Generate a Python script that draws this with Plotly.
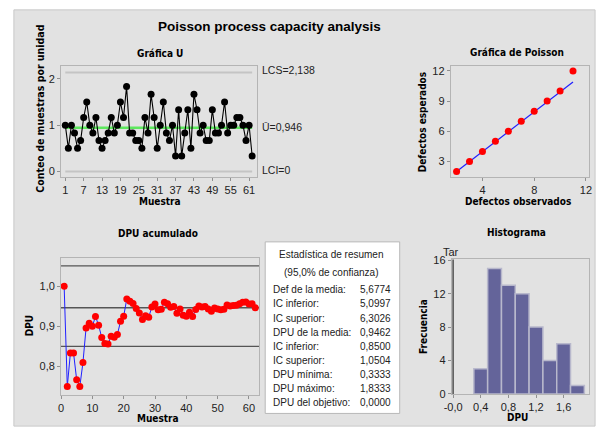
import plotly.graph_objects as go
import numpy as np

# ---------------- data ----------------
units_per_sample = 6
defects = [6, 3, 6, 5, 3, 4, 7, 9, 6, 5,
           7, 4, 3, 4, 5, 7, 5, 6, 9, 7,
           11, 5, 5, 4, 4, 3, 7, 5, 10, 7,
           3, 6, 9, 5, 4, 6, 2, 8, 2, 5,
           8, 3, 10, 8, 5, 6, 4, 4, 8, 5,
           5, 6, 9, 5, 6, 6, 7, 7, 6, 4,
           6, 2]
samples = list(range(1, len(defects) + 1))

poisson_observed = [2, 3, 4, 5, 6, 7, 8, 9, 10, 11]
poisson_expected = [2, 3, 4, 5, 6, 7, 8, 9, 10, 12]
fit_x = [2, 11]
fit_y = [2, 10.9]

hist_edges = [0.3, 0.5, 0.7, 0.9, 1.1, 1.3, 1.5, 1.7, 1.9]

summary_labels = ["Def de la media:", "IC inferior:", "IC superior:", "DPU de la media:",
                  "IC inferior:", "IC superior:", "DPU mínima:", "DPU máximo:", "DPU del objetivo:"]
summary_values = ["5,6774", "5,0997", "6,3026", "0,9462", "0,8500", "1,0504",
                  "0,3333", "1,8333", "0,0000"]
dpu_ci = [0.8500, 0.9462, 1.0504]
target_dpu = 0.0

# ---------------- derived ----------------
d = np.array(defects, dtype=float)
u = d / units_per_sample
ubar = d.sum() / (len(d) * units_per_sample)
ucl = ubar + 3 * np.sqrt(ubar / units_per_sample)
lcl = max(0.0, ubar - 3 * np.sqrt(ubar / units_per_sample))
cum_dpu = np.cumsum(d) / (units_per_sample * np.arange(1, len(d) + 1))
counts, _ = np.histogram(u, bins=np.round(hist_edges, 2))
mids = [(hist_edges[i] + hist_edges[i + 1]) / 2 for i in range(len(counts))]

W, H = 602, 436
def px(x): return x / W
def py(y): return 1 - y / H

FONT = "DejaVu Sans Condensed, DejaVu Sans, sans-serif"
TITLEFONT = "Liberation Sans, Arial, sans-serif"
TFONT = "Liberation Sans, Arial, sans-serif"
TXT = "#222222"

fig = go.Figure()

# U chart
fig.add_trace(go.Scatter(x=[1, len(d)], y=[ucl, ucl], mode="lines",
                         line=dict(color="#c4c4c4", width=2), xaxis="x", yaxis="y", hoverinfo="skip"))
fig.add_trace(go.Scatter(x=[1, len(d)], y=[lcl, lcl], mode="lines",
                         line=dict(color="#c4c4c4", width=2), xaxis="x", yaxis="y", hoverinfo="skip"))
fig.add_trace(go.Scatter(x=[1, len(d)], y=[ubar, ubar], mode="lines",
                         line=dict(color="#5ee85e", width=2.5), xaxis="x", yaxis="y"))
fig.add_trace(go.Scatter(x=samples, y=u, mode="lines+markers",
                         line=dict(color="black", width=1.1),
                         marker=dict(color="black", size=7), xaxis="x", yaxis="y"))

# Poisson plot
fig.add_trace(go.Scatter(x=fit_x, y=fit_y, mode="lines", line=dict(color="#2020ff", width=1.2),
                         xaxis="x2", yaxis="y2"))
fig.add_trace(go.Scatter(x=poisson_observed, y=poisson_expected, mode="markers",
                         marker=dict(color="#ff0000", size=7), xaxis="x2", yaxis="y2"))

# Cumulative DPU
fig.add_trace(go.Scatter(x=samples, y=cum_dpu, mode="lines+markers",
                         line=dict(color="#2020ff", width=1),
                         marker=dict(color="#ff0000", size=7), xaxis="x3", yaxis="y3"))

# Histogram
fig.add_trace(go.Bar(x=mids, y=counts, width=0.2,
                     marker=dict(color="#64649a", line=dict(color="#b8b8cc", width=1.5)),
                     xaxis="x4", yaxis="y4"))

axcommon = dict(showgrid=False, zeroline=False, showline=True, mirror=True,
                linecolor="#b4b4b4", linewidth=1, ticks="outside", ticklen=3,
                tickcolor="#909090", tickfont=dict(family=TFONT, size=11, color=TXT))

fig.update_layout(
    width=W, height=H, margin=dict(l=0, r=0, t=0, b=0),
    paper_bgcolor="white", plot_bgcolor="white", showlegend=False,
    xaxis=dict(domain=[px(54), px(254)], anchor="y", range=[-0.4, 63.7],
               tickvals=list(range(1, 62, 6)), **axcommon),
    yaxis=dict(domain=[py(176), py(63)], anchor="x", range=[-0.11, 2.27],
               tickvals=[0, 1, 2], **axcommon),
    xaxis2=dict(domain=[px(451), px(592)], anchor="y2", range=[1.55, 12.25],
                tickvals=[4, 8, 12], **axcommon),
    yaxis2=dict(domain=[py(176), py(63)], anchor="x2", range=[1.5, 12.45],
                tickvals=[3, 6, 9, 12], **axcommon),
    xaxis3=dict(domain=[px(54), px(256)], anchor="y3", range=[0, 63.3],
                tickvals=[0, 10, 20, 30, 40, 50, 60], **axcommon),
    yaxis3=dict(domain=[py(400), py(260)], anchor="x3", range=[0.729, 1.069],
                tickvals=[0.8, 0.9, 1.0], ticktext=["0,8", "0,9", "1,0"], **axcommon),
    xaxis4=dict(domain=[px(452), px(592)], anchor="y4", range=[-0.02, 1.97],
                tickvals=[0, 0.4, 0.8, 1.2, 1.6], ticktext=["-0,0", "0,4", "0,8", "1,2", "1,6"],
                **axcommon),
    yaxis4=dict(domain=[py(399), py(261)], anchor="x4", range=[0, 16.1],
                tickvals=[0, 4, 8, 12, 16], **axcommon),
)

shapes = [
    dict(type="rect", xref="paper", yref="paper", x0=px(6), x1=px(598), y0=py(432), y1=py(5),
         fillcolor="#e2e2e2", line=dict(color="#c8c8c8", width=1), layer="below"),
    dict(type="rect", xref="paper", yref="paper", x0=px(262), x1=px(399), y0=py(419), y1=py(243),
         fillcolor="white", line=dict(color="#b8b8b8", width=1), layer="below"),
    dict(type="line", xref="x4", yref="y4 domain", x0=target_dpu, x1=target_dpu, y0=0, y1=1,
         line=dict(color="#505050", width=1.5)),
]
for v in dpu_ci:
    shapes.append(dict(type="line", xref="x3 domain", yref="y3", x0=0, x1=1, y0=v, y1=v,
                       line=dict(color="#555555", width=1.3), layer="below"))
fig.update_layout(shapes=shapes)

ann = []
def text(x, y, s, size=10, bold=True, angle=0, xanchor="center", family=FONT):
    ann.append(dict(xref="paper", yref="paper", x=px(x), y=py(y), text=f"<b>{s}</b>" if bold else s,
                    showarrow=False, xanchor=xanchor, yanchor="middle", textangle=angle, borderpad=0,
                    font=dict(family=family, size=size, color="black" if bold else TXT)))

text(266, 22, "Poisson process capacity analysis", size=13.5, family=TITLEFONT)
text(155, 50, "Gráfica U")
text(518, 49, "Gráfica de Poisson")
text(153, 234, "DPU acumulado")
text(518, 233, "Histograma")
text(155, 202, "Muestra", size=10)
text(33, 106, "Conteo de muestras por unidad", size=10.5, angle=-90)
text(519, 202, "Defectos observados", size=10)
text(423, 120, "Defectos esperados", size=10, angle=-90)
text(153, 424, "Muestra", size=10)
text(22, 329, "DPU", size=10, angle=-90)
text(423, 330, "Frecuencia", size=10, angle=-90)
text(519, 423, "DPU", size=10)
text(451, 253, "Tar", size=11, bold=False, family=TFONT)

text(258, 67, f"LCS={ucl:.3f}".replace(".", ","), size=10.5, bold=False, xanchor="left", family=TFONT)
text(258, 125, f"Ū={ubar:.3f}".replace(".", ","), size=10.5, bold=False, xanchor="left", family=TFONT)
text(258, 169, f"LCI={lcl:.0f}", size=10.5, bold=False, xanchor="left", family=TFONT)

text(330, 256, "Estadística de resumen", size=10, bold=False, family=TFONT)
text(330, 274, "(95,0% de confianza)", size=10, bold=False, family=TFONT)
for i, (lab, val) in enumerate(zip(summary_labels, summary_values)):
    yy = 292.3 + i * 14.42
    text(269, yy, lab, size=10, bold=False, xanchor="left", family=TFONT)
    text(391, yy, val, size=10, bold=False, xanchor="right", family=TFONT)

fig.update_layout(annotations=ann)
fig.write_html("out.html")
